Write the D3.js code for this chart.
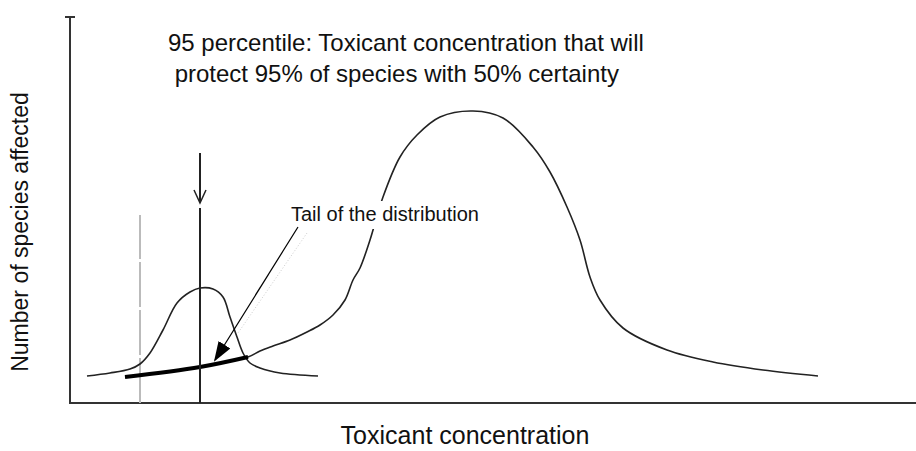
<!DOCTYPE html>
<html>
<head>
<meta charset="utf-8">
<script src="https://cdn.jsdelivr.net/npm/d3@7"></script>
<style>
  body { margin: 0; background: #fff; }
  text { font-family: "Liberation Sans", Arial, sans-serif; fill: #111; }
</style>
</head>
<body>
<svg id="chart"></svg>
<script>
// arbitrary units (concentration, number of species)
var bigCurveX = [55, 130, 178, 190, 203, 220, 237, 250, 263, 275, 283, 290, 300, 313, 330, 347, 370, 403, 433, 463, 480, 497, 510, 520, 530, 553, 597, 643, 693, 748];
var bigCurveY = [26, 36, 46, 52, 57, 63, 71, 78, 88, 103, 123, 135, 163, 206, 246, 268, 286, 292, 285, 256, 231, 196, 163, 126, 103, 75, 53, 41, 33, 27];
var smallCurveX = [17, 40, 60, 70, 80, 93, 107, 120, 130, 143, 153, 160, 167, 173, 180, 190, 210, 248];
var smallCurveY = [27, 30, 34, 39, 50, 73, 100, 111, 115, 114, 106, 86, 66, 50, 40, 35, 30, 27];
var tailEnd = 178;          // bold part of big curve ends here
var percentileX = 130;      // 95 percentile concentration
var safeX = 70;             // dashed line
var titleLines = ["95 percentile: Toxicant concentration that will", " protect 95% of species with 50% certainty"];
var tailLabel = "Tail of the distribution";
var xLabel = "Toxicant concentration";
var yLabel = "Number of species affected";

var screen = {width: 916, height: 451};
var svg = d3.select("#chart").attr("width", screen.width).attr("height", screen.height);

var x = d3.scaleLinear().domain([0, 846]).range([70, 916]);
var y = d3.scaleLinear().domain([0, 386]).range([403, 17]);

var big = bigCurveX.map(function(d, i){ return {x: d, y: bigCurveY[i]}; });
var small = smallCurveX.map(function(d, i){ return {x: d, y: smallCurveY[i]}; });

var line = d3.line()
  .x(function(p){ return x(p.x); })
  .y(function(p){ return y(p.y); })
  .curve(d3.curveCatmullRom);

// axes (no ticks)
svg.append("line")
  .attr("x1", x(0)).attr("x2", x(0)).attr("y1", y(0) + 1).attr("y2", y(386))
  .attr("stroke", "#333").attr("stroke-width", 2);
svg.append("line")
  .attr("x1", x(0) - 5).attr("x2", x(0) + 5).attr("y1", y(386)).attr("y2", y(386))
  .attr("stroke", "#333").attr("stroke-width", 2);
svg.append("line")
  .attr("x1", x(0) - 1).attr("x2", x(846)).attr("y1", y(0)).attr("y2", y(0))
  .attr("stroke", "#333").attr("stroke-width", 2);

// dashed safe line
svg.append("line")
  .attr("x1", x(safeX)).attr("x2", x(safeX)).attr("y1", y(0)).attr("y2", y(188))
  .attr("stroke", "#bbb").attr("stroke-width", 2)
  .attr("stroke-dasharray", "45,3");

// faint dotted guide
svg.append("line")
  .attr("x1", x(237)).attr("x2", x(168)).attr("y1", y(170)).attr("y2", y(70))
  .attr("stroke", "#ccc").attr("stroke-width", 1)
  .attr("stroke-dasharray", "1,2");

// curves
svg.append("path").datum(small).attr("d", line)
  .attr("fill", "none").attr("stroke", "#222").attr("stroke-width", 1.6);
svg.append("path").datum(big).attr("d", line)
  .attr("fill", "none").attr("stroke", "#222").attr("stroke-width", 1.6);
svg.append("path").datum(big.filter(function(p){ return p.x <= tailEnd; }))
  .attr("d", line)
  .attr("fill", "none").attr("stroke", "#000").attr("stroke-width", 4);

// 95 percentile line with arrow
svg.append("line")
  .attr("x1", x(percentileX)).attr("x2", x(percentileX)).attr("y1", y(0)).attr("y2", y(195))
  .attr("stroke", "#222").attr("stroke-width", 2);
svg.append("line")
  .attr("x1", x(percentileX)).attr("x2", x(percentileX)).attr("y1", y(250)).attr("y2", y(201))
  .attr("stroke", "#222").attr("stroke-width", 2);
svg.append("path")
  .attr("d", "M" + (x(percentileX) - 6) + "," + y(213) + " L" + x(percentileX) + "," + y(200) + " L" + (x(percentileX) + 6) + "," + y(213))
  .attr("fill", "none").attr("stroke", "#222").attr("stroke-width", 1.5);

// tail label with white box (it cuts the big curve)
var tail = svg.append("text")
  .attr("x", 291).attr("y", 221)
  .attr("font-size", 20)
  .text(tailLabel);
var bb = tail.node().getBBox();
svg.insert("rect", "text")
  .attr("x", bb.x - 2).attr("y", bb.y - 2)
  .attr("width", bb.width + 4).attr("height", bb.height + 6)
  .attr("fill", "#fff");

// tail annotation arrow
svg.append("defs").append("marker")
  .attr("id", "head").attr("viewBox", "0 0 10 10")
  .attr("refX", 9).attr("refY", 5)
  .attr("markerWidth", 20).attr("markerHeight", 14)
  .attr("markerUnits", "userSpaceOnUse")
  .attr("orient", "auto")
  .attr("preserveAspectRatio", "none")
  .append("path").attr("d", "M0,0 L10,5 L0,10 Z").attr("fill", "#000");
svg.append("line")
  .attr("x1", x(228)).attr("y1", y(176)).attr("x2", x(145)).attr("y2", y(43))
  .attr("stroke", "#000").attr("stroke-width", 1.2)
  .attr("marker-end", "url(#head)");

// texts
svg.selectAll(".title").data(titleLines).enter().append("text")
  .attr("class", "title")
  .attr("x", 168)
  .attr("y", function(d, i){ return 51 + i * 31; })
  .attr("font-size", 24)
  .attr("xml:space", "preserve")
  .style("white-space", "pre")
  .text(function(d){ return d; });

svg.append("text")
  .attr("x", 465).attr("y", 444)
  .attr("text-anchor", "middle")
  .attr("font-size", 25)
  .text(xLabel);

svg.append("text")
  .attr("transform", "translate(28,232) rotate(-90)")
  .attr("text-anchor", "middle")
  .attr("font-size", 23)
  .text(yLabel);
</script>
</body>
</html>
